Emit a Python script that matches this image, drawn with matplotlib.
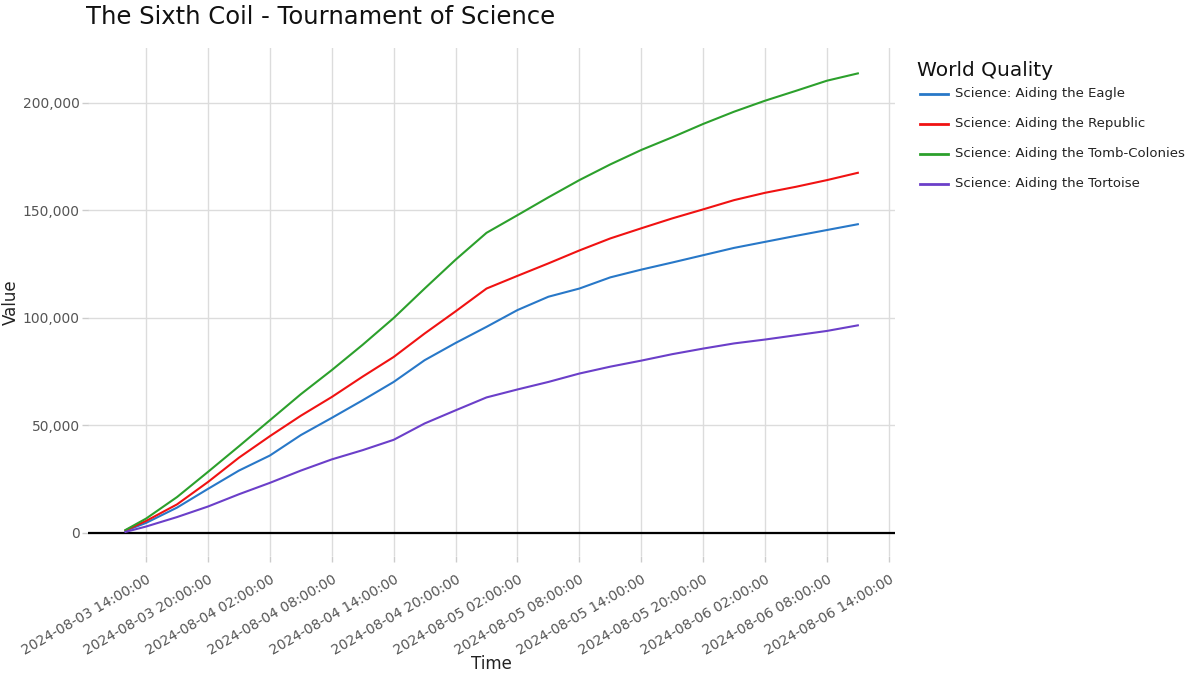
#!/usr/bin/env python3

import matplotlib
matplotlib.use("Agg")
import matplotlib.pyplot as plt
import matplotlib.dates as mdates
from matplotlib.lines import Line2D
from matplotlib.ticker import FuncFormatter
import pandas as pd

# hours since 2024-08-03 12:00
start = "2024-08-03 12:00:00"
hours = [0, 2, 5, 8, 11, 14, 17, 20, 23, 26, 29, 32, 35, 38, 41, 44, 47,
         50, 53, 56, 59, 62, 65, 68, 71]

eagle = [1000, 4700, 11800, 20500, 29000, 36000, 45500, 53500, 61700, 70200,
         80300, 88300, 95800, 103600, 109800, 113600, 118800, 122400, 125700,
         129100, 132500, 135300, 138100, 140800, 143500]
republic = [1200, 5600, 13300, 23700, 35000, 45000, 54500, 63200, 72700,
            81800, 92700, 103000, 113600, 119500, 125300, 131300, 136900,
            141600, 146200, 150400, 154700, 158100, 160900, 164000, 167400]
tomb = [1400, 6700, 16700, 28400, 40300, 52400, 64500, 75700, 87500, 99900,
        113600, 127000, 139500, 147700, 156000, 164000, 171300, 178000,
        183900, 190100, 195800, 200900, 205500, 210200, 213600]
tortoise = [500, 3000, 7400, 12300, 18000, 23300, 29000, 34200, 38500, 43300,
            50900, 57000, 63000, 66700, 70200, 74100, 77300, 80100, 83100,
            85700, 88100, 89900, 91900, 93900, 96500]

series_names = ["Science: Aiding the Eagle", "Science: Aiding the Republic",
                "Science: Aiding the Tomb-Colonies",
                "Science: Aiding the Tortoise"]
series_values = [eagle, republic, tomb, tortoise]
colors = ["#2878c8", "#f01212", "#2ca02c", "#6b3fc9"]

times = pd.Timestamp(start) + pd.to_timedelta(hours, unit="h")

plt.rcParams["font.family"] = ["DejaVu Sans"]

W, H = 1200, 675
fig = plt.figure(figsize=(12, 6.75), dpi=100)
ax = fig.add_axes([88 / W, 1 - 556 / H, (895 - 88) / W, (556 - 48) / H])

for name, vals, c in zip(series_names, series_values, colors):
    ax.plot(times, vals, color=c, lw=1.5, label=name, zorder=3)

ax.axhline(0, color="black", lw=1.6, zorder=2)

# axis ranges
ax.set_xlim(pd.Timestamp("2024-08-03 08:22:00"),
            pd.Timestamp("2024-08-06 14:36:00"))
ax.set_ylim(-10700, 225400)

# ticks
ax.xaxis.set_major_locator(mdates.HourLocator(byhour=[2, 8, 14, 20]))
ax.xaxis.set_major_formatter(mdates.DateFormatter("%Y-%m-%d %H:%M:%S"))
ax.set_yticks([0, 50000, 100000, 150000, 200000])
ax.yaxis.set_major_formatter(FuncFormatter(lambda v, p: f"{int(v):,}"))

for lbl in ax.get_xticklabels():
    lbl.set_rotation(30)
    lbl.set_ha("right")
    lbl.set_rotation_mode("anchor")

ax.tick_params(axis="both", colors="#cccccc", labelcolor="#555555",
               labelsize=10, length=4, width=1)
ax.tick_params(axis="x", pad=8)
ax.tick_params(axis="y", pad=2)

ax.grid(True, color="#dcdcdc", lw=1)
ax.set_axisbelow(True)
for s in ax.spines.values():
    s.set_visible(False)

ax.set_xlabel("Time", fontsize=12, color="#222222", labelpad=-2)
ax.set_ylabel("Value", fontsize=12, color="#222222", labelpad=2)

fig.text(86 / W, 1 - 17 / H, "The Sixth Coil - Tournament of Science",
         fontsize=17.5, color="#111111", ha="left", va="center")

# legend drawn by hand so the spacing matches
fig.text(917 / W, 1 - 71 / H, "World Quality", fontsize=14.5,
         color="#111111", ha="left", va="center")
for i, (name, c) in enumerate(zip(series_names, colors)):
    yy = 1 - (94 + 30 * i) / H
    fig.add_artist(Line2D([920 / W, 948 / W], [yy, yy], color=c, lw=2,
                          transform=fig.transFigure))
    fig.text(955 / W, yy, name, fontsize=9.55, color="#222222",
             ha="left", va="center")

fig.savefig("out.png", dpi=100)
plt.close(fig)
